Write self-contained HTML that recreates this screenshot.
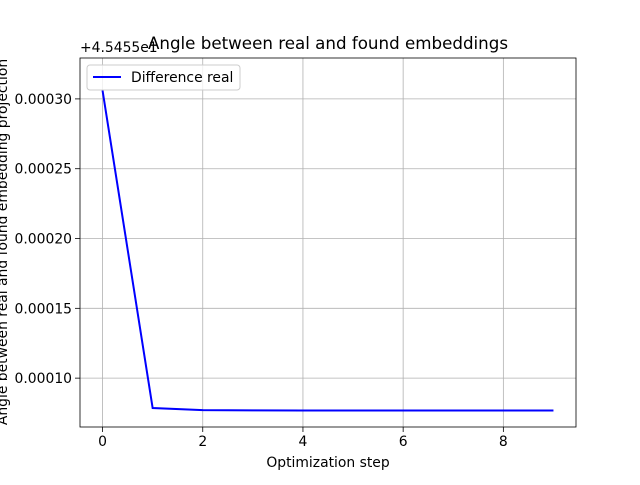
<!DOCTYPE html>
<html><head><meta charset="utf-8"><style>
body{margin:0;background:#fff;}
svg text{font-family:"DejaVu Sans","Liberation Sans",sans-serif;}
</style></head><body>
<svg id="chart" width="640" height="480" xmlns="http://www.w3.org/2000/svg">
<rect width="640" height="480" fill="#fff"/>
<g id="grid"></g>
<g id="series"></g>
<rect x="80" y="58" width="496" height="369" fill="none" stroke="#000" stroke-width="0.8"/>
<g id="xticks"></g>
<g id="yticks"></g>
<text x="328" y="49" font-size="16.7" text-anchor="middle">Angle between real and found embeddings</text>
<text x="328" y="467" font-size="13.9" text-anchor="middle">Optimization step</text>
<text transform="translate(7,242) rotate(-90)" font-size="13.9" text-anchor="middle">Angle between real and found embedding projection</text>
<text x="80" y="52" font-size="13.9">+4.5455e1</text>
<g>
<rect x="87" y="65" width="153" height="25" rx="3" fill="#fff" fill-opacity="0.8" stroke="#ccc"/>
<line x1="93" y1="77" x2="121" y2="77" stroke="#0000ff" stroke-width="2"/>
<text x="131" y="82" font-size="13.9">Difference real</text>
</g>
</svg>
<script>
const steps=[0,1,2,3,4,5,6,7,8,9];
const values=[0.000306,0.0000786,0.0000771,0.0000769,0.0000768,0.0000768,0.0000768,0.0000768,0.0000768,0.0000768];
const xTicks=[0,2,4,6,8];
const yTicks=[0.00010,0.00015,0.00020,0.00025,0.00030];
const yTickLabels=["0.00010","0.00015","0.00020","0.00025","0.00030"];
const NS="http://www.w3.org/2000/svg";
const x=v=>80+(v+0.45)*(496/9.9);
const y=v=>427-(v-0.000065)*(369/(0.0003293-0.000065));
function mk(t,a,p){const e=document.createElementNS(NS,t);for(const k in a)e.setAttribute(k,a[k]);p.appendChild(e);return e;}
const g=document.getElementById('grid'),xt=document.getElementById('xticks'),yt=document.getElementById('yticks'),s=document.getElementById('series');
xTicks.forEach(v=>{const px=x(v);
const l=mk('line',{x1:px,x2:px,y1:58,y2:427,stroke:'#b0b0b0','stroke-width':0.8},g);

mk('line',{x1:px,x2:px,y1:427,y2:432,stroke:'#000','stroke-width':0.8},xt);
const t=mk('text',{x:px,y:446,'font-size':13.9,'text-anchor':'middle'},xt);t.textContent=v;
});
yTicks.forEach((v,i)=>{const py=y(v);
const l=mk('line',{x1:80,x2:576,y1:py,y2:py,stroke:'#b0b0b0','stroke-width':0.8},g);

mk('line',{x1:75,x2:80,y1:py,y2:py,stroke:'#000','stroke-width':0.8},yt);
const t=mk('text',{x:72,y:py+5,'font-size':13.9,'text-anchor':'end'},yt);t.textContent=yTickLabels[i];
});
const pl=mk('polyline',{points:steps.map((st,i)=>x(st)+','+y(values[i])).join(' '),fill:'none',stroke:'#0000ff','stroke-width':2},s);


</script>
</body></html>
